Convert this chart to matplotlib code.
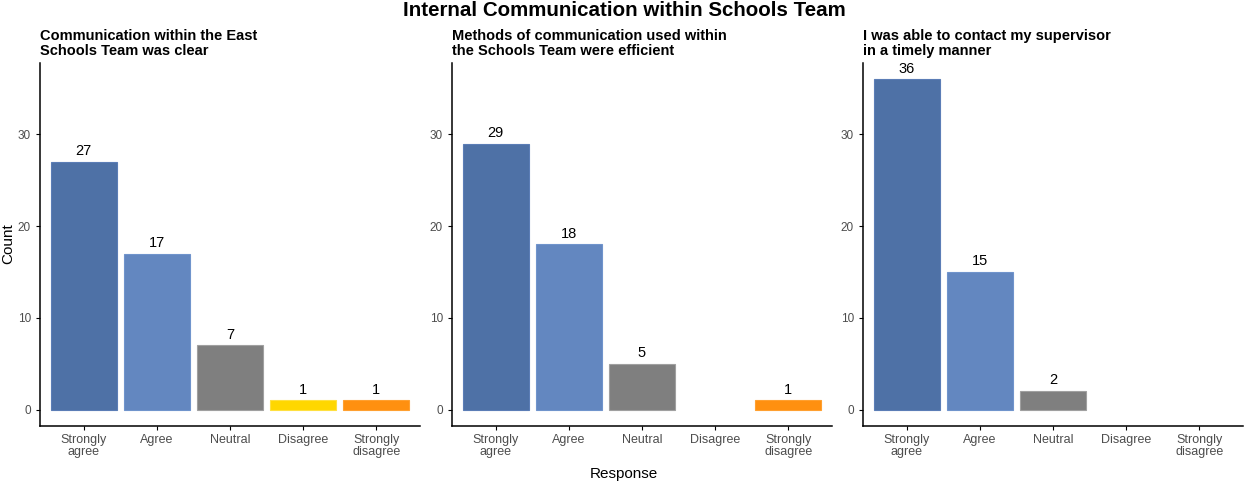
import matplotlib
matplotlib.use("Agg")
import matplotlib.pyplot as plt

plt.rcParams['font.family'] = ['Liberation Sans', 'DejaVu Sans']

categories = ["Strongly\nagree", "Agree", "Neutral", "Disagree", "Strongly\ndisagree"]
colors = ["#4E71A6", "#6387C0", "#7F7F7F", "#FFD700", "#FF9010"]
edges = ["#5B7DB6", "#7094CC", "#A0A0A0", "#FFE040", "#FFA030"]

titles = [
    "Communication within the East\nSchools Team was clear",
    "Methods of communication used within\nthe Schools Team were efficient",
    "I was able to contact my supervisor\nin a timely manner",
]
clear_counts = [27, 17, 7, 1, 1]
efficient_counts = [29, 18, 5, None, 1]
timely_counts = [36, 15, 2, None, None]
panel_counts = [clear_counts, efficient_counts, timely_counts]

W, H = 1248, 483
fig = plt.figure(figsize=(W / 100, H / 100), dpi=100)

lefts = [40, 452, 863]
pw = 380
top, bottom = 63, 426

for i, counts in enumerate(panel_counts):
    ax = fig.add_axes([lefts[i] / W, (H - bottom) / H, pw / W, (bottom - top) / H])
    for j, v in enumerate(counts):
        if v is None:
            continue
        ax.bar(j, v, width=0.9, color=colors[j], edgecolor=edges[j], linewidth=0.8)
        ax.text(j, v + 0.4, str(v), ha="center", va="bottom", fontsize=10.5, color="black")
    ax.set_xlim(-0.6, 4.6)
    ax.set_ylim(-1.8, 37.8)
    ax.set_xticks(range(len(categories)))
    ax.set_xticklabels(categories, fontsize=9, color="#4D4D4D", linespacing=0.95)
    ax.set_yticks([0, 10, 20, 30])
    ax.tick_params(axis="y", labelsize=8.5, labelcolor="#4D4D4D", length=3, width=0.8)
    ax.tick_params(axis="x", length=3, width=0.8, pad=3)
    for s in ["top", "right"]:
        ax.spines[s].set_visible(False)
    for s in ["left", "bottom"]:
        ax.spines[s].set_linewidth(1.1)
    ax.set_title(titles[i], loc="left", fontsize=10.5, fontweight="bold", pad=6,
                 linespacing=1.05)

fig.text(8 / W, 1 - 244 / H, "Count", rotation=90, ha="center", va="center", fontsize=11)
fig.text(624 / W, 1 - 11 / H, "Internal Communication within Schools Team",
         ha="center", va="center", fontsize=14.8, fontweight="bold")
fig.text(624 / W, 1 - 474 / H, "Response", ha="center", va="center", fontsize=11)

fig.savefig("out.png", dpi=100)
